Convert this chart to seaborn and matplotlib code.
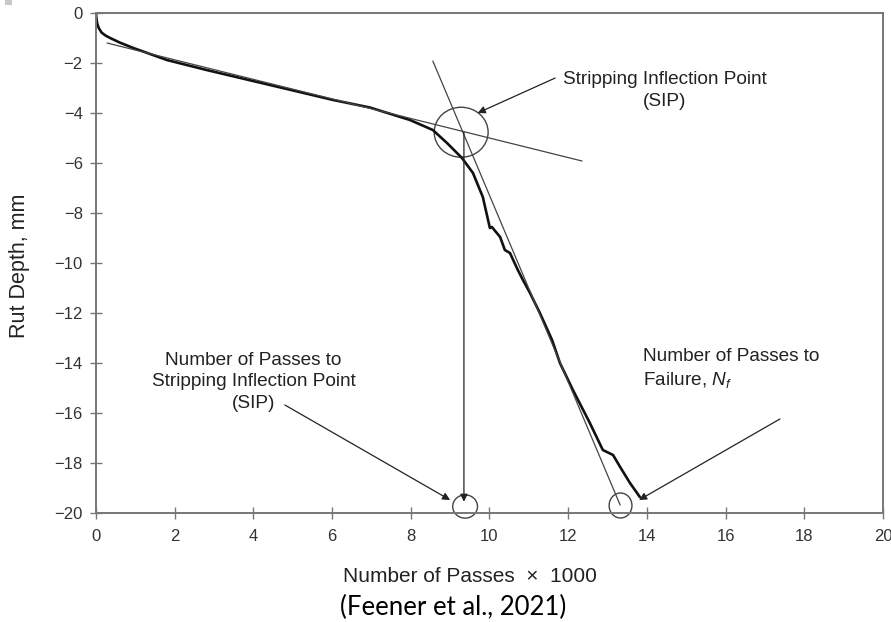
import matplotlib
matplotlib.use("Agg")
import matplotlib.pyplot as plt
import seaborn as sns
import numpy as np
import pandas as pd
from matplotlib.patches import Ellipse, Rectangle

# ---- data ----
passes_k = [0, 0.01, 0.03, 0.07, 0.14, 0.24, 0.36, 0.6, 0.95, 1.8, 2.81, 4.34, 6.03, 6.96, 7.98,
            8.56, 8.92, 9.3, 9.58, 9.83, 10.01, 10.06, 10.27, 10.39, 10.52, 10.72, 10.85, 11.03,
            11.28, 11.59, 11.79, 12.12, 12.55, 12.88, 13.14, 13.32, 13.57, 13.75, 13.82]
rut_depth = [0, -0.2, -0.42, -0.6, -0.78, -0.9, -1.0, -1.18, -1.4, -1.88, -2.28, -2.85, -3.48,
             -3.78, -4.28, -4.68, -5.2, -5.8, -6.4, -7.36, -8.6, -8.56, -8.96, -9.48, -9.6,
             -10.28, -10.68, -11.2, -12.0, -13.08, -14.0, -15.08, -16.4, -17.48, -17.68,
             -18.16, -18.8, -19.2, -19.36]

creep_tangent_x = [0.28, 12.35]
creep_tangent_y = [-1.2, -5.92]
strip_tangent_x = [8.56, 13.32]
strip_tangent_y = [-1.92, -19.68]

sip_x = 9.35          # passes to SIP (x1000)
sip_y = -4.77
nf_x = 13.33          # passes to failure (x1000)

x_ticks = list(range(0, 21, 2))
y_ticks = list(range(0, -21, -2))

# ---- style ----
sns.set_theme(style="white")
plt.rcParams['font.family'] = ['Liberation Sans', 'DejaVu Sans']
plt.rcParams['mathtext.fontset'] = 'custom'
plt.rcParams['mathtext.it'] = 'Liberation Sans:italic'
plt.rcParams['mathtext.rm'] = 'Liberation Sans'

fig = plt.figure(figsize=(8.91, 6.22), dpi=100)
ax = fig.add_axes([96/891, 1 - 513/622, (883-96)/891, (513-13)/622])

df = pd.DataFrame({"x": passes_k, "y": rut_depth})
sns.lineplot(data=df, x="x", y="y", sort=False, estimator=None, color="#111111",
             linewidth=1.9, ax=ax)
sns.lineplot(x=creep_tangent_x, y=creep_tangent_y, color="#444444", linewidth=0.9, ax=ax)
sns.lineplot(x=strip_tangent_x, y=strip_tangent_y, color="#444444", linewidth=0.9, ax=ax)

ax.set_xlim(0, 20)
ax.set_ylim(-20, 0)
ax.set_xticks(x_ticks)
ax.set_yticks(y_ticks)
ax.set_xticklabels([str(v) for v in x_ticks])
ax.set_yticklabels([str(v).replace('-', '\u2212') for v in y_ticks])
ax.tick_params(axis='both', direction='inout', length=9, width=1.0, color="#777777",
               labelsize=12, labelcolor="#333333", bottom=True, left=True)
ax.tick_params(axis='x', pad=7)
ax.tick_params(axis='y', pad=5)
for s in ax.spines.values():
    s.set_color("#777777")
    s.set_linewidth(1.4)

ax.set_xlabel("")
ax.set_ylabel("")
fig.text(20/891, 1 - 266/622, "Rut Depth, mm", rotation=90, ha='center', va='center',
         fontsize=15.5, color="#222222")

# circles
ax.add_patch(Ellipse((9.28, sip_y), 1.37, 2.0, fill=False, edgecolor="#444444", lw=1.0))
ax.add_patch(Ellipse((sip_x + 0.03, -19.74), 0.63, 0.93, fill=False, edgecolor="#444444",
                     lw=1.0, clip_on=False))
ax.add_patch(Ellipse((nf_x, -19.7), 0.58, 1.0, fill=False, edgecolor="#444444",
                     lw=1.0, clip_on=False))

arrow_kw = dict(arrowstyle='-|>', color="#222222", lw=0.9, mutation_scale=11,
                shrinkA=0, shrinkB=0)

# vertical arrow from SIP down
ax.annotate("", xy=(sip_x, -19.55), xytext=(sip_x, sip_y), arrowprops=arrow_kw)

txt_kw = dict(fontsize=13.7, color="#222222", linespacing=1.35)

# SIP label
ax.text(14.45, -3.1, "Stripping Inflection Point\n(SIP)", ha='center', va='center', **txt_kw)
ax.annotate("", xy=(9.7, -4.0), xytext=(11.67, -2.6), arrowprops=arrow_kw)

# Passes to SIP
ax.text(4.0, -14.75, "Number of Passes to\nStripping Inflection Point\n(SIP)",
        ha='center', va='center', **txt_kw)
ax.annotate("", xy=(9.0, -19.48), xytext=(4.8, -15.68), arrowprops=arrow_kw)

# Passes to failure
ax.text(13.9, -14.25, "Number of Passes to\nFailure, $N_f$",
        ha='left', va='center', **txt_kw)
ax.annotate("", xy=(13.8, -19.48), xytext=(17.38, -16.24), arrowprops=arrow_kw)

fig.text(470/891, 1 - 577/622, "Number of Passes  \u00d7  1000", ha='center', va='center',
         fontsize=15, color="#222222")
fig.text(453/891, 1 - 607/622, "(Feener et al., 2021)", ha='center', va='center',
         fontsize=18.5, color="#000000", family=['Lato', 'DejaVu Sans'])

fig.patches.append(Rectangle((5/891, 1 - 5/622), 7/891, 5/622, transform=fig.transFigure,
                             facecolor="#c8c8c8", edgecolor='none'))

fig.savefig("out.png", dpi=100)
